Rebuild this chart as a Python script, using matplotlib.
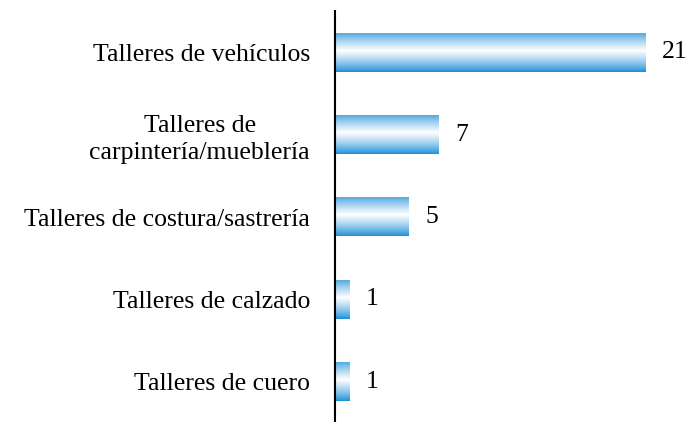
import matplotlib
matplotlib.use("Agg")
import matplotlib.pyplot as plt
import numpy as np

categories = ["Talleres de vehículos", "Talleres de\ncarpintería/mueblería",
              "Talleres de costura/sastrería", "Talleres de calzado", "Talleres de cuero"]
values = [21, 7, 5, 1, 1]

plt.rcParams["font.family"] = ["Liberation Serif", "DejaVu Serif"]
FS = 18.5

fig = plt.figure(figsize=(6.92, 4.22), dpi=100)
ax = fig.add_axes([335 / 692, -1 / 422, 355 / 692, 412 / 422])

# vertical gradient: blue at edges, white slightly above the middle
t = np.linspace(0, 1, 200)
w = np.clip(1 - np.abs(t - 0.45) / 0.55, 0, 1) ** 0.8
blue = np.array([0.09, 0.55, 0.84])
grad = blue[None, :] * (1 - w[:, None]) + np.ones(3)[None, :] * w[:, None]
grad = grad[:, None, :]

h = 0.47
ys = np.arange(len(categories))
for y, v in zip(ys, values):
    ax.imshow(grad, extent=(0, v, y + h / 2, y - h / 2), aspect="auto",
              interpolation="bilinear", zorder=2)
    ax.text(v + 1.1, y, str(v), va="center", ha="left", fontsize=FS)

ax.set_xlim(0, 24)
ax.set_ylim(len(categories) - 0.5, -0.5)
ax.set_yticks(ys)
ax.set_yticklabels(categories, fontsize=FS, multialignment="center", linespacing=1.3)
ax.tick_params(axis="y", length=0, pad=18)
ax.set_xticks([])
for s in ["top", "right", "bottom"]:
    ax.spines[s].set_visible(False)
ax.spines["left"].set_linewidth(1.5)

fig.savefig("out.png", dpi=100)
